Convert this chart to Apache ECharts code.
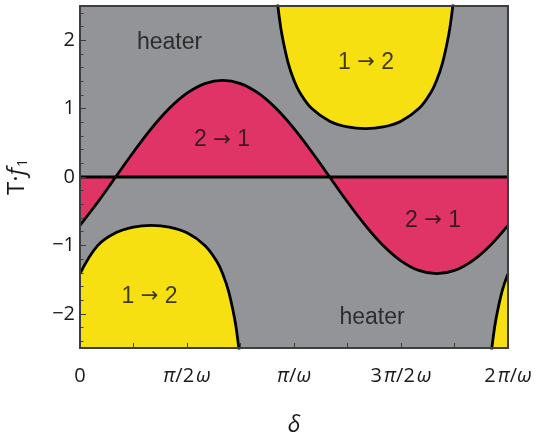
<!DOCTYPE html>
<html>
<head>
<meta charset="utf-8">
<script src="https://cdn.jsdelivr.net/npm/echarts@6/dist/echarts.min.js"></script>
<style>
  html, body { margin: 0; padding: 0; background: #fff; }
  #chart { width: 537px; height: 438px; }
</style>
</head>
<body>
<div id="chart"></div>
<script>
// delta in degrees of the period (0..360 = 0..2pi/omega)
var sineX = [0, 15, 30, 45, 60, 75, 90, 105, 120, 135, 150, 165, 180, 195, 210, 225, 240, 255, 270, 285, 300, 315, 330, 345, 360];
var sineY = [-0.707, -0.366, 0, 0.366, 0.707, 1.0, 1.225, 1.366, 1.414, 1.366, 1.225, 1.0, 0.707, 0.366, 0, -0.366, -0.707, -1.0, -1.225, -1.366, -1.414, -1.366, -1.225, -1.0, -0.707];

// lower left yellow boundary
var lowX = [0, 15, 30, 45, 60, 75, 90, 105, 115, 120, 125, 130, 132.5, 135, 137.5, 140];
var lowY = [-1.414, -1.0, -0.816, -0.732, -0.707, -0.732, -0.816, -1.0, -1.233, -1.414, -1.673, -2.067, -2.351, -2.732, -3.267, -4.07];

// upper yellow boundary
var upX = [157.5, 160, 162.5, 165, 167.5, 170, 175, 180, 185, 195, 210, 225, 240, 255, 270, 285, 295, 300, 305, 310, 312.5, 315, 317.5, 320, 322.5];
var upY = [5.42, 4.07, 3.267, 2.732, 2.351, 2.067, 1.673, 1.414, 1.233, 1.0, 0.816, 0.732, 0.707, 0.732, 0.816, 1.0, 1.233, 1.414, 1.673, 2.067, 2.351, 2.732, 3.267, 4.07, 5.42];

// bottom right yellow boundary
var brX = [337.5, 340, 342.5, 345, 347.5, 350, 355, 360];
var brY = [-5.42, -4.07, -3.267, -2.732, -2.351, -2.067, -1.673, -1.414];

var zeroX = [0, 360];
var zeroY = [0, 0];

var xTickLabels = ['0', '{i|π}/2{w|ω}', '{i|π}/{i|ω}', '3{w|π}/2{w|ω}', '2{w|π}/{i|ω}'];
var yMajorTicks = [-2, -1, 0, 1, 2];
var yMinorTicks = [-2.4, -2.2, -1.8, -1.6, -1.4, -1.2, -0.8, -0.6, -0.4, -0.2, 0.2, 0.4, 0.6, 0.8, 1.2, 1.4, 1.6, 1.8, 2.2, 2.4];

var notes = [
  {name: 'heater', value: [75.3, 1.96]},
  {name: 'heater', value: [245.6, -2.05]},
  {name: '1 {a|→} 2', value: [240.6, 1.67]},
  {name: '1 {a|→} 2', value: [58.5, -1.75]},
  {name: '2 {a|→} 1', value: [119.4, 0.54]},
  {name: '2 {a|→} 1', value: [296.9, -0.64]}
];

function zip(xs, ys) {
  return xs.map(function (x, i) { return [x, ys[i]]; });
}

var FONT = 'Open Sans, DejaVu Sans, sans-serif';
var NOTE_FONT = 'Liberation Sans, Arial, sans-serif';
var GRAY = '#939498';
var YELLOW = '#f6e012';
var RED = '#e03466';
var AXIS = '#3d3d3d';
var TXT = '#1a1a1a';

function fill(xs, ys, color, origin) {
  return {
    type: 'line', data: zip(xs, ys), smooth: 0.4, symbol: 'none', z: 2,
    lineStyle: {width: 0, opacity: 0},
    areaStyle: {color: color, opacity: 1, origin: origin}
  };
}
function curve(xs, ys, smooth) {
  return {
    type: 'line', data: zip(xs, ys), smooth: smooth, symbol: 'none', z: 3,
    lineStyle: {color: '#000', width: 2.8}
  };
}

var italic = {fontStyle: 'italic', fontSize: 20, fontFamily: FONT, color: TXT};
var italicGap = {fontStyle: 'italic', fontSize: 20, fontFamily: FONT, color: TXT, padding: [0, 0, 0, 2]};

var chart = echarts.init(document.getElementById('chart'));
chart.setOption({
  animation: false,
  textStyle: {fontFamily: FONT},
  grid: {
    left: 80, right: 29, top: 6, bottom: 90, outerBoundsMode: 'none',
    show: true, backgroundColor: GRAY, borderWidth: 0
  },
  xAxis: [{
    type: 'value', min: 0, max: 360, interval: 90, z: 10,
    name: 'δ', nameLocation: 'middle', nameGap: 66,
    nameTextStyle: {fontSize: 23, fontStyle: 'italic', color: TXT, fontFamily: FONT},
    axisLine: {show: true, onZero: false, lineStyle: {color: AXIS, width: 2}},
    axisTick: {show: true, inside: true, length: 5, lineStyle: {color: AXIS}},
    minorTick: {show: true, splitNumber: 2, length: 5, lineStyle: {color: AXIS}},
    splitLine: {show: false},
    axisLabel: {
      margin: 18, fontSize: 20, color: TXT, fontFamily: FONT,
      formatter: function (v) { return xTickLabels[Math.round(v / 90)]; },
      rich: {i: italic, w: italicGap}
    }
  }, {
    type: 'value', min: 0, max: 360, position: 'top', z: 10,
    axisLine: {show: true, onZero: false, lineStyle: {color: AXIS, width: 2}},
    axisTick: {show: false}, axisLabel: {show: false}, splitLine: {show: false}
  }],
  yAxis: [{
    type: 'value', min: -2.5, max: 2.5, z: 10,
    name: 'T·{i|f}{s|1}', nameLocation: 'middle', nameGap: 50, nameRotate: 90,
    nameTextStyle: {
      fontSize: 24, color: TXT, fontFamily: FONT,
      rich: {
        i: {fontStyle: 'italic', fontSize: 24, fontFamily: FONT, color: TXT},
        s: {fontSize: 14, fontFamily: FONT, color: TXT, verticalAlign: 'bottom', padding: [12, 0, 0, 1]}
      }
    },
    axisLine: {show: true, onZero: false, lineStyle: {color: AXIS, width: 2}},
    axisTick: {show: true, inside: true, length: 6, customValues: yMajorTicks, lineStyle: {color: AXIS}},
    splitLine: {show: false},
    axisLabel: {
      margin: 5, fontSize: 20, color: TXT, fontFamily: FONT,
      customValues: yMajorTicks,
      formatter: function (v) { return v < 0 ? '−' + (-v) : String(v); }
    }
  }, {
    type: 'value', min: -2.5, max: 2.5, position: 'left', z: 10,
    axisLine: {show: false, onZero: false},
    axisTick: {show: true, inside: true, length: 3.5, customValues: yMinorTicks, lineStyle: {color: AXIS}},
    axisLabel: {show: false},
    splitLine: {show: false}
  }, {
    type: 'value', min: -2.5, max: 2.5, position: 'right', z: 10,
    axisLine: {show: true, onZero: false, lineStyle: {color: AXIS, width: 2}},
    axisTick: {show: false}, axisLabel: {show: false}, splitLine: {show: false}
  }],
  series: [
    fill(lowX, lowY, YELLOW, 'start'),
    fill(upX, upY, YELLOW, 'end'),
    fill(brX, brY, YELLOW, 'start'),
    fill(sineX, sineY, RED, 'auto'),
    curve(lowX, lowY, 0.4),
    curve(upX, upY, 0.4),
    curve(brX, brY, 0.4),
    curve(sineX, sineY, 0.4),
    curve(zeroX, zeroY, false),
    {
      type: 'scatter', data: notes, symbolSize: 0, z: 12,
      label: {
        show: true, position: 'inside', formatter: '{b}', fontSize: 23, color: '#111', fontFamily: NOTE_FONT,
        rich: {a: {fontSize: 21, fontFamily: 'DejaVu Sans', color: '#111'}}
      }
    }
  ]
});
</script>
</body>
</html>
